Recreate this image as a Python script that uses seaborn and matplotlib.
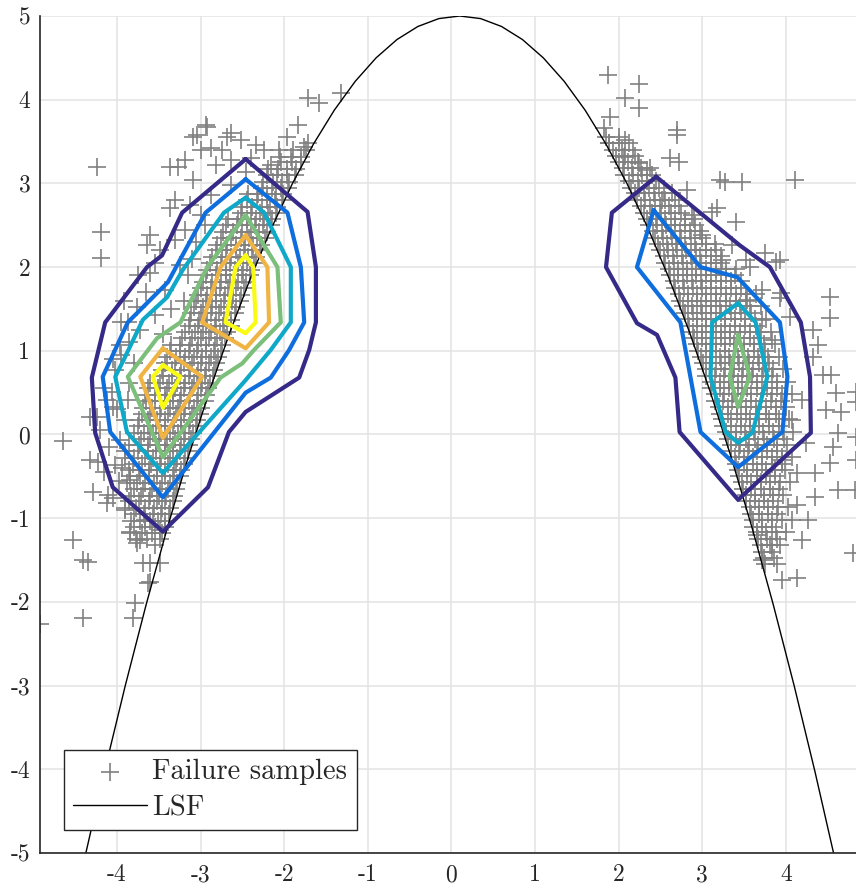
import matplotlib
matplotlib.use('Agg')
import matplotlib.pyplot as plt
import seaborn as sns
import pandas as pd

sns.set_theme(style='white')
plt.rcParams['font.family'] = ['cmr10', 'DejaVu Serif']
plt.rcParams['axes.unicode_minus'] = False
plt.rcParams['mathtext.fontset'] = 'cm'

# ---------------- data ----------------
x_ticks = [-4, -3, -2, -1, 0, 1, 2, 3, 4]
x_tick_labels = ['-4', '-3', '-2', '-1', '0', '1', '2', '3', '4']
y_ticks = [-5, -4, -3, -2, -1, 0, 1, 2, 3, 4, 5]
y_tick_labels = ['-5', '-4', '-3', '-2', '-1', '0', '1', '2', '3', '4', '5']

# limit state function curve
lsf_x = [-4.4, -4.15, -3.9, -3.65, -3.4, -3.15, -2.9, -2.65, -2.4, -2.15, -1.9, -1.65, -1.4,
         -1.15, -0.9, -0.65, -0.4, -0.15, 0.1, 0.35, 0.6, 0.85, 1.1, 1.35, 1.6, 1.85, 2.1,
         2.35, 2.6, 2.85, 3.1, 3.35, 3.6, 3.85, 4.1, 4.35, 4.6]
lsf_y = [-5.125, -4.031, -3.0, -2.031, -1.125, -0.281, 0.5, 1.219, 1.875, 2.469, 3.0, 3.469,
         3.875, 4.219, 4.5, 4.719, 4.875, 4.969, 5.0, 4.969, 4.875, 4.719, 4.5, 4.219, 3.875,
         3.469, 3.0, 2.469, 1.875, 1.219, 0.5, -0.281, -1.125, -2.031, -3.0, -4.031, -5.125]

# failure samples: dense band of the left cluster (rows of y, x values per row)
left_core_y = [-1.25, -1.10, -0.95, -0.80, -0.65, -0.50, -0.35, -0.20, -0.05, 0.10, 0.25, 0.40,
               0.55, 0.70, 0.85, 1.00, 1.15, 1.30, 1.45, 1.60, 1.75, 1.90, 2.05, 2.20, 2.35,
               2.50, 2.65, 2.80, 2.95, 3.10, 3.25, 3.40]
left_core_x = [
    [-3.49, -3.64, -3.77],
    [-3.43, -3.54, -3.66, -3.79],
    [-3.38, -3.47, -3.57, -3.68, -3.80],
    [-3.33, -3.43, -3.52, -3.62, -3.73, -3.86],
    [-3.29, -3.39, -3.48, -3.58, -3.69, -3.80],
    [-3.24, -3.33, -3.43, -3.52, -3.62, -3.72, -3.84],
    [-3.20, -3.29, -3.39, -3.49, -3.59, -3.70, -3.81],
    [-3.15, -3.24, -3.33, -3.43, -3.53, -3.63, -3.75],
    [-3.11, -3.20, -3.30, -3.40, -3.50, -3.60, -3.71],
    [-3.05, -3.14, -3.23, -3.33, -3.43, -3.53, -3.63, -3.75],
    [-3.01, -3.10, -3.20, -3.29, -3.39, -3.49, -3.60, -3.70],
    [-2.95, -3.04, -3.14, -3.24, -3.33, -3.43, -3.54, -3.65],
    [-2.91, -3.00, -3.10, -3.20, -3.30, -3.40, -3.51, -3.63],
    [-2.85, -2.95, -3.04, -3.14, -3.24, -3.34, -3.45],
    [-2.81, -2.90, -3.00, -3.10, -3.20, -3.31, -3.43],
    [-2.75, -2.84, -2.94, -3.04, -3.14, -3.25, -3.36],
    [-2.71, -2.80, -2.90, -3.00, -3.10, -3.22],
    [-2.64, -2.73, -2.83, -2.93, -3.03, -3.14],
    [-2.59, -2.68, -2.78, -2.88, -2.99, -3.11],
    [-2.53, -2.62, -2.72, -2.82, -2.93, -3.05],
    [-2.48, -2.57, -2.67, -2.77, -2.88, -3.00],
    [-2.41, -2.50, -2.60, -2.70, -2.81, -2.93],
    [-2.36, -2.45, -2.55, -2.65, -2.76, -2.89],
    [-2.29, -2.38, -2.48, -2.58, -2.69, -2.82],
    [-2.23, -2.32, -2.42, -2.52, -2.63, -2.76],
    [-2.16, -2.25, -2.35, -2.45, -2.56, -2.69],
    [-2.10, -2.19, -2.29, -2.40, -2.52],
    [-2.02, -2.11, -2.21, -2.32, -2.44],
    [-1.95, -2.04, -2.14, -2.26],
    [-1.87, -1.97, -2.08, -2.21],
    [-1.80, -1.91, -2.04],
    [-1.74, -1.89],
]
# staggered rows in between (left cluster)
left_core2_y = [-1.18, -1.03, -0.88, -0.73, -0.58, -0.43, -0.28, -0.13, 0.02, 0.17, 0.32, 0.47,
                0.62, 0.77, 0.92, 1.07, 1.22, 1.37, 1.52, 1.67, 1.82, 1.97, 2.12, 2.27, 2.42,
                2.57, 2.72, 2.87, 3.02, 3.17, 3.32]
left_core2_x = [
    [-3.46, -3.58, -3.70, -3.84],
    [-3.42, -3.51, -3.61, -3.72, -3.83],
    [-3.37, -3.46, -3.56, -3.66, -3.77, -3.90],
    [-3.32, -3.41, -3.50, -3.60, -3.71, -3.83],
    [-3.28, -3.37, -3.46, -3.56, -3.66, -3.76, -3.88],
    [-3.23, -3.32, -3.42, -3.52, -3.62, -3.73, -3.85],
    [-3.19, -3.28, -3.37, -3.47, -3.57, -3.67, -3.79, -3.90],
    [-3.14, -3.23, -3.33, -3.43, -3.53, -3.63, -3.74, -3.86],
    [-3.09, -3.18, -3.27, -3.37, -3.47, -3.57, -3.68, -3.80],
    [-3.04, -3.13, -3.23, -3.32, -3.42, -3.52, -3.63, -3.74],
    [-2.99, -3.08, -3.18, -3.27, -3.37, -3.47, -3.58, -3.69],
    [-2.94, -3.03, -3.13, -3.23, -3.33, -3.43, -3.54, -3.66],
    [-2.89, -2.98, -3.08, -3.18, -3.28, -3.38, -3.49, -3.60],
    [-2.84, -2.93, -3.03, -3.13, -3.23, -3.34, -3.46],
    [-2.79, -2.88, -2.98, -3.08, -3.18, -3.29, -3.40],
    [-2.74, -2.83, -2.93, -3.03, -3.13, -3.24, -3.35],
    [-2.68, -2.77, -2.87, -2.97, -3.07, -3.18],
    [-2.63, -2.72, -2.82, -2.92, -3.02, -3.13],
    [-2.57, -2.66, -2.76, -2.86, -2.97, -3.08],
    [-2.52, -2.61, -2.71, -2.81, -2.92, -3.03],
    [-2.46, -2.55, -2.65, -2.75, -2.86, -2.97],
    [-2.40, -2.49, -2.59, -2.69, -2.80, -2.92],
    [-2.34, -2.43, -2.53, -2.63, -2.74, -2.86],
    [-2.28, -2.37, -2.47, -2.57, -2.68, -2.80],
    [-2.21, -2.30, -2.40, -2.50, -2.61, -2.73],
    [-2.15, -2.24, -2.34, -2.44, -2.55, -2.67],
    [-2.08, -2.17, -2.27, -2.38, -2.50],
    [-2.01, -2.10, -2.20, -2.31, -2.43],
    [-1.94, -2.03, -2.13, -2.25],
    [-1.86, -1.96, -2.07, -2.19],
    [-1.80, -1.92, -2.05],
]

# dense band of the right cluster
right_core_y = [3.55, 3.40, 3.25, 3.10, 2.95, 2.80, 2.65, 2.50, 2.35, 2.20, 2.05, 1.90, 1.75,
                1.60, 1.45, 1.30, 1.15, 1.00, 0.85, 0.70, 0.55, 0.40, 0.25, 0.10, -0.05,
                -0.20, -0.35, -0.50, -0.65, -0.80, -0.95, -1.10, -1.25, -1.40, -1.55]
right_core_x = [
    [1.85, 2.00],
    [1.93, 2.04, 2.17],
    [2.00, 2.11, 2.23],
    [2.07, 2.17, 2.28, 2.40],
    [2.15, 2.25, 2.36, 2.48],
    [2.22, 2.32, 2.43, 2.55, 2.67],
    [2.30, 2.40, 2.51, 2.63, 2.75],
    [2.36, 2.46, 2.57, 2.68, 2.80, 2.92],
    [2.43, 2.53, 2.64, 2.75, 2.87, 3.00],
    [2.49, 2.59, 2.70, 2.81, 2.93, 3.05, 3.17],
    [2.56, 2.66, 2.77, 2.88, 2.99, 3.11, 3.23],
    [2.61, 2.71, 2.82, 2.93, 3.04, 3.16, 3.28, 3.39],
    [2.68, 2.78, 2.89, 3.00, 3.11, 3.23, 3.35, 3.47],
    [2.73, 2.83, 2.94, 3.05, 3.16, 3.28, 3.40, 3.53],
    [2.79, 2.89, 3.00, 3.11, 3.22, 3.34, 3.46, 3.59],
    [2.84, 2.94, 3.05, 3.16, 3.27, 3.39, 3.51, 3.64],
    [2.90, 3.00, 3.11, 3.22, 3.33, 3.45, 3.57, 3.70],
    [2.95, 3.05, 3.16, 3.27, 3.38, 3.50, 3.62, 3.75],
    [3.01, 3.11, 3.22, 3.33, 3.44, 3.56, 3.68, 3.80],
    [3.05, 3.15, 3.26, 3.37, 3.48, 3.60, 3.72, 3.84],
    [3.11, 3.21, 3.32, 3.43, 3.54, 3.66, 3.78, 3.90],
    [3.15, 3.25, 3.36, 3.47, 3.58, 3.70, 3.82, 3.94],
    [3.21, 3.31, 3.42, 3.53, 3.64, 3.76, 3.88],
    [3.25, 3.35, 3.46, 3.57, 3.68, 3.80, 3.92],
    [3.31, 3.41, 3.52, 3.63, 3.74, 3.86, 3.98],
    [3.34, 3.44, 3.55, 3.66, 3.77, 3.89],
    [3.40, 3.50, 3.61, 3.72, 3.83, 3.95],
    [3.44, 3.54, 3.65, 3.76, 3.87],
    [3.49, 3.59, 3.70, 3.81, 3.92],
    [3.53, 3.63, 3.74, 3.85],
    [3.58, 3.68, 3.79, 3.90],
    [3.61, 3.72, 3.84],
    [3.67, 3.78, 3.90],
    [3.71, 3.84],
    [3.75, 3.90],
]
# staggered rows in between (right cluster)
right_core2_y = [3.48, 3.33, 3.18, 3.03, 2.88, 2.73, 2.58, 2.43, 2.28, 2.13, 1.98, 1.83, 1.68,
                 1.53, 1.38, 1.23, 1.08, 0.93, 0.78, 0.63, 0.48, 0.33, 0.18, 0.03, -0.12,
                 -0.27, -0.42, -0.57, -0.72, -0.87, -1.02, -1.17, -1.32, -1.47]
right_core2_x = [
    [1.88, 2.00, 2.12],
    [1.97, 2.08, 2.20],
    [2.05, 2.16, 2.27, 2.38],
    [2.12, 2.23, 2.34, 2.45],
    [2.20, 2.31, 2.42, 2.54, 2.64],
    [2.27, 2.38, 2.49, 2.60, 2.72],
    [2.34, 2.45, 2.56, 2.67, 2.79, 2.90],
    [2.41, 2.52, 2.63, 2.74, 2.86, 2.98],
    [2.47, 2.58, 2.69, 2.80, 2.92, 3.04, 3.15],
    [2.54, 2.65, 2.76, 2.87, 2.98, 3.10, 3.22],
    [2.60, 2.71, 2.82, 2.93, 3.04, 3.16, 3.28, 3.40],
    [2.66, 2.77, 2.88, 2.99, 3.10, 3.22, 3.34, 3.46],
    [2.72, 2.83, 2.94, 3.05, 3.16, 3.28, 3.40, 3.52, 3.64],
    [2.77, 2.88, 2.99, 3.10, 3.21, 3.33, 3.45, 3.57, 3.70],
    [2.83, 2.94, 3.05, 3.16, 3.27, 3.39, 3.51, 3.63, 3.76],
    [2.89, 3.00, 3.11, 3.22, 3.33, 3.45, 3.57, 3.69, 3.82],
    [2.94, 3.05, 3.16, 3.27, 3.38, 3.50, 3.62, 3.74, 3.87],
    [2.99, 3.10, 3.21, 3.32, 3.43, 3.55, 3.67, 3.79, 3.92],
    [3.05, 3.16, 3.27, 3.38, 3.49, 3.61, 3.73, 3.85, 3.97],
    [3.10, 3.21, 3.32, 3.43, 3.54, 3.66, 3.78, 3.90, 4.02],
    [3.15, 3.26, 3.37, 3.48, 3.59, 3.71, 3.83, 3.95, 4.07],
    [3.20, 3.31, 3.42, 3.53, 3.64, 3.76, 3.88, 4.00],
    [3.24, 3.35, 3.46, 3.57, 3.68, 3.80, 3.92, 4.04],
    [3.29, 3.40, 3.51, 3.62, 3.73, 3.85, 3.97, 4.09],
    [3.34, 3.45, 3.56, 3.67, 3.78, 3.90, 4.02],
    [3.39, 3.50, 3.61, 3.72, 3.83, 3.95, 4.07],
    [3.43, 3.54, 3.65, 3.76, 3.87, 3.99],
    [3.48, 3.59, 3.70, 3.81, 3.93, 4.05],
    [3.52, 3.63, 3.74, 3.85, 3.97],
    [3.57, 3.68, 3.79, 3.91, 4.03],
    [3.61, 3.72, 3.83, 3.95],
    [3.65, 3.76, 3.88, 4.00],
    [3.70, 3.81, 3.93],
    [3.74, 3.86],
]

# scattered failure samples (outside the dense bands)
sparse_x = [-3.36, -3.27, -3.09, -3.30, -3.36, -3.60, -3.64, -3.09, -2.92, -3.04, -2.68, -2.94,
            -2.64, -2.88, -2.74, -2.52, -2.34, -2.40, -2.24, -1.84, -1.96, -1.72, -2.06, -1.76,
            -1.72, -1.58, -1.32, -3.18, -2.82, -2.64, -2.16, -3.00,
            -3.60, -3.76, -3.48, -3.30, -3.42, -3.87, -3.96, -3.72, -4.02, -4.06, -3.87, -3.18,
            -3.00, -3.24, -3.54, -3.12, -2.88, -2.64, -2.46,
            -4.65, -4.32, -4.23, -4.02, -3.94, -4.29, -4.12, -4.05, -4.11, -4.32, -4.24, -4.12,
            -4.05, -3.90, -3.96, -3.84, -4.53, -4.41, -4.35, -4.41, -4.92, -3.76, -3.72, -3.84,
            -3.69, -3.60, -3.48, -3.63, -3.60, -3.78, -3.81, -3.48, -3.66, -3.54, -3.90,
            -3.95, -3.85, -4.00, -3.90, -3.85, -3.80, -3.05, -2.95, -3.15, -3.20, -3.35, -3.45,
            -3.10, -4.24, -4.19, -4.19,
            -4.15, -4.05, -3.95, -4.20, -4.10, -3.98, -4.15, -3.92, -3.75, -3.55, -3.65,
            1.87, 2.24, 2.08, 2.24, 1.90, 1.82, 1.88, 2.08, 2.70, 2.70, 2.62, 2.72, 2.06, 2.24,
            2.34, 3.21, 3.27, 3.48, 4.11, 2.82, 3.18, 3.12, 3.40, 3.75, 3.88, 3.93, 4.53, 4.53,
            3.94, 3.93, 4.05, 3.72, 3.57, 3.52, 3.00, 2.88, 2.52, 4.32, 4.44, 4.54, 4.60, 4.48,
            4.66, 4.62, 4.56, 4.53, 4.35, 4.35, 4.62, 4.83, 4.80, 4.84, 4.84, 4.84, 4.84, 4.14,
            4.24, 4.20, 4.32, 4.38, 4.08, 4.14, 4.08, 3.96, 4.14, 3.72, 3.84, 3.66, 4.20, 4.26,
            3.96, 3.84, 3.72, 3.54, 3.24, 3.36]
sparse_y = [3.20, 3.20, 3.04, 2.80, 2.71, 2.38, 2.26, 3.55, 3.67, 3.58, 3.55, 3.70,
            3.60, 3.42, 3.40, 3.52, 3.46, 3.30, 3.40, 3.70, 3.55, 3.48, 3.40, 3.44,
            4.02, 3.96, 4.08, 3.28, 3.22, 3.28, 3.22, 3.40,
            1.93, 1.52, 2.20, 2.32, 1.73, 1.34, 1.07, 1.25, 0.77, 0.51, 0.41, 2.44,
            2.62, 2.02, 1.43, 2.74, 2.86, 2.98, 3.14,
            -0.08, -0.30, -0.33, -0.36, -0.40, -0.69, -0.82, -0.76, -0.72, 0.21, 0.21, 0.41,
            0.33, 0.17, -0.07, -0.54, -1.26, -1.50, -1.52, -2.19, -2.27, -1.30, -1.26, -1.16,
            -1.54, -1.54, -1.54, -1.77, -1.76, -2.01, -2.19, -1.14, -1.02, -1.32, -0.90,
            0.95, 0.62, 0.30, -0.20, 1.10, 0.85, 2.30, 2.50, 1.90, 1.60, 1.50, 1.20,
            2.10, 3.19, 2.42, 2.11,
            0.55, 0.90, 1.35, 0.05, -0.15, -0.55, -0.45, 1.60, 1.90, 2.05, 1.70,
            4.30, 4.19, 4.02, 3.90, 3.79, 3.66, 3.48, 3.52, 3.64, 3.58, 3.30, 3.26, 3.32, 3.24,
            3.16, 3.04, 3.02, 3.02, 3.04, 2.92, 2.71, 2.66, 2.54, 2.17, 2.06, 2.08, 1.64, 1.39,
            1.69, 1.63, 1.40, 1.73, 2.00, 2.08, 2.38, 2.62, 2.80, 0.93, 0.71, 0.71, 0.50, 0.29,
            0.27, 0.02, -0.15, -0.34, -0.46, -0.75, -0.66, -0.66, -1.41, 0.51, 0.39, -0.03, -0.30, -0.46,
            -0.10, 0.41, 1.25, 1.07, 0.17, -0.84, -1.02, -1.74, -1.71, -1.50, -1.32, -1.20, -1.26, -1.02,
            -0.30, 1.13, 1.37, 1.61, 2.08, 2.26]

# density contour lines (closed polygons), levels 1..6 (parula colours)
level_colors = ['#352A87', '#0F6EDD', '#0FA8C8', '#7CBF7B', '#F0B445', '#F9FB14']

c1_left_x = [-2.46, -1.72, -1.62, -1.62, -1.70, -1.82, -2.46, -2.66, -2.91, -3.45, -4.05, -4.26, -4.30, -4.14, -3.64, -3.46, -3.22, -2.46]
c1_left_y = [3.29, 2.66, 2.00, 1.34, 1.01, 0.68, 0.27, 0.03, -0.63, -1.16, -0.63, 0.02, 0.68, 1.34, 2.00, 2.14, 2.65, 3.29]
c2_left_x = [-2.46, -1.96, -1.80, -1.76, -1.94, -2.16, -2.46, -3.45, -4.08, -4.17, -3.87, -3.39, -2.94, -2.46]
c2_left_y = [3.05, 2.65, 2.00, 1.34, 1.01, 0.68, 0.50, -0.75, 0.03, 0.69, 1.34, 1.82, 2.65, 3.05]
c3_left_x = [-2.46, -2.24, -1.92, -1.92, -2.16, -2.46, -3.45, -3.88, -4.02, -3.92, -3.69, -3.40, -3.21, -2.72, -2.46]
c3_left_y = [2.83, 2.65, 2.00, 1.34, 1.01, 0.65, -0.46, 0.03, 0.69, 0.89, 1.37, 1.64, 1.97, 2.65, 2.83]
c4_left_x = [-2.46, -2.08, -2.04, -2.36, -2.50, -2.76, -3.45, -3.87, -3.52, -3.24, -2.92, -2.46]
c4_left_y = [2.62, 2.00, 1.34, 1.01, 0.85, 0.68, -0.27, 0.69, 1.15, 1.34, 2.00, 2.62]
c5_upper_x = [-2.46, -2.20, -2.18, -2.46, -2.98, -2.76, -2.46]
c5_upper_y = [2.38, 2.00, 1.34, 1.03, 1.34, 2.00, 2.38]
c5_lower_x = [-3.45, -2.98, -3.45, -3.72, -3.45]
c5_lower_y = [1.03, 0.69, -0.04, 0.69, 1.03]
c6_upper_x = [-2.46, -2.37, -2.34, -2.46, -2.70, -2.58, -2.46]
c6_upper_y = [2.14, 2.00, 1.34, 1.21, 1.34, 2.00, 2.14]
c6_lower_x = [-3.45, -3.24, -3.45, -3.57, -3.45]
c6_lower_y = [0.83, 0.69, 0.32, 0.69, 0.83]
c1_right_x = [2.45, 1.92, 1.85, 2.22, 2.46, 2.68, 2.73, 3.43, 4.30, 4.29, 4.18, 3.81, 3.45, 2.45]
c1_right_y = [3.08, 2.65, 2.00, 1.33, 1.19, 0.68, 0.03, -0.78, 0.02, 0.69, 1.34, 2.00, 2.26, 3.08]
c2_right_x = [2.42, 2.98, 3.42, 3.93, 4.02, 3.96, 3.43, 2.98, 2.74, 2.22, 2.42]
c2_right_y = [2.68, 2.00, 1.88, 1.34, 0.69, 0.03, -0.39, 0.03, 1.34, 2.00, 2.68]
c3_right_x = [3.43, 3.64, 3.78, 3.60, 3.43, 3.28, 3.10, 3.12, 3.43]
c3_right_y = [1.57, 1.34, 0.69, 0.02, -0.10, 0.03, 0.69, 1.34, 1.57]
c4_right_x = [3.43, 3.57, 3.43, 3.33, 3.43]
c4_right_y = [1.19, 0.69, 0.33, 0.69, 1.19]

# ---------------- build tables ----------------
px, py = [], []
for rows_y, rows_x in [(left_core_y, left_core_x), (left_core2_y, left_core2_x),
                       (right_core_y, right_core_x), (right_core2_y, right_core2_x)]:
    for yv, xs in zip(rows_y, rows_x):
        px += xs
        py += [yv] * len(xs)
px += sparse_x
py += sparse_y
samples = pd.DataFrame({'x': px, 'y': py})

contours = [
    (0, c1_left_x, c1_left_y), (1, c2_left_x, c2_left_y), (2, c3_left_x, c3_left_y),
    (3, c4_left_x, c4_left_y), (4, c5_upper_x, c5_upper_y), (4, c5_lower_x, c5_lower_y),
    (5, c6_upper_x, c6_upper_y), (5, c6_lower_x, c6_lower_y),
    (0, c1_right_x, c1_right_y), (1, c2_right_x, c2_right_y), (2, c3_right_x, c3_right_y),
    (3, c4_right_x, c4_right_y),
]

# ---------------- plot ----------------
fig = plt.figure(figsize=(8.56, 8.88), dpi=100)
ax = fig.add_axes([40 / 856, 35 / 888, 1 - 40 / 856, (853 - 16) / 888])

ax.grid(True, color='#e3e3e3', linewidth=1.1, zorder=0)
ax.set_axisbelow(True)

sns.scatterplot(data=samples, x='x', y='y', marker='+', color='#808080', s=160,
                linewidth=1.2, ax=ax, label='Failure samples', zorder=2)
sns.lineplot(x=lsf_x, y=lsf_y, color='black', linewidth=1.0, sort=False, estimator=None,
             ax=ax, label='LSF', zorder=2.5)
for lvl, cx, cy in contours:
    sns.lineplot(x=cx, y=cy, color=level_colors[lvl], linewidth=3.0, sort=False,
                 estimator=None, ax=ax, legend=False, zorder=3)

ax.set_xlim(-4.92, 4.84)
ax.set_ylim(-5, 5)
ax.set_xticks(x_ticks)
ax.set_xticklabels(x_tick_labels)
ax.set_yticks(y_ticks)
ax.set_yticklabels(y_tick_labels)
ax.set_xlabel('')
ax.set_ylabel('')
ax.tick_params(axis='both', direction='in', length=6, width=1.0, colors='#262626',
               labelsize=17, labelcolor='#262626')
ax.tick_params(axis='x', pad=8)
ax.tick_params(axis='y', pad=7)
for s in ['top', 'right']:
    ax.spines[s].set_visible(False)
for s in ['left', 'bottom']:
    ax.spines[s].set_color('#262626')
    ax.spines[s].set_linewidth(1.2)

h, l = ax.get_legend_handles_labels()
leg = ax.legend(h, l, loc='lower left', bbox_to_anchor=(0.029, 0.027), borderaxespad=0,
                fontsize=20.5, frameon=True, fancybox=False, edgecolor='#262626',
                framealpha=1, handlelength=2.6, handletextpad=0.2, labelspacing=0.35,
                borderpad=0.32, markerscale=1.0)
leg.get_frame().set_linewidth(1.0)

fig.savefig('out.png', dpi=100)
